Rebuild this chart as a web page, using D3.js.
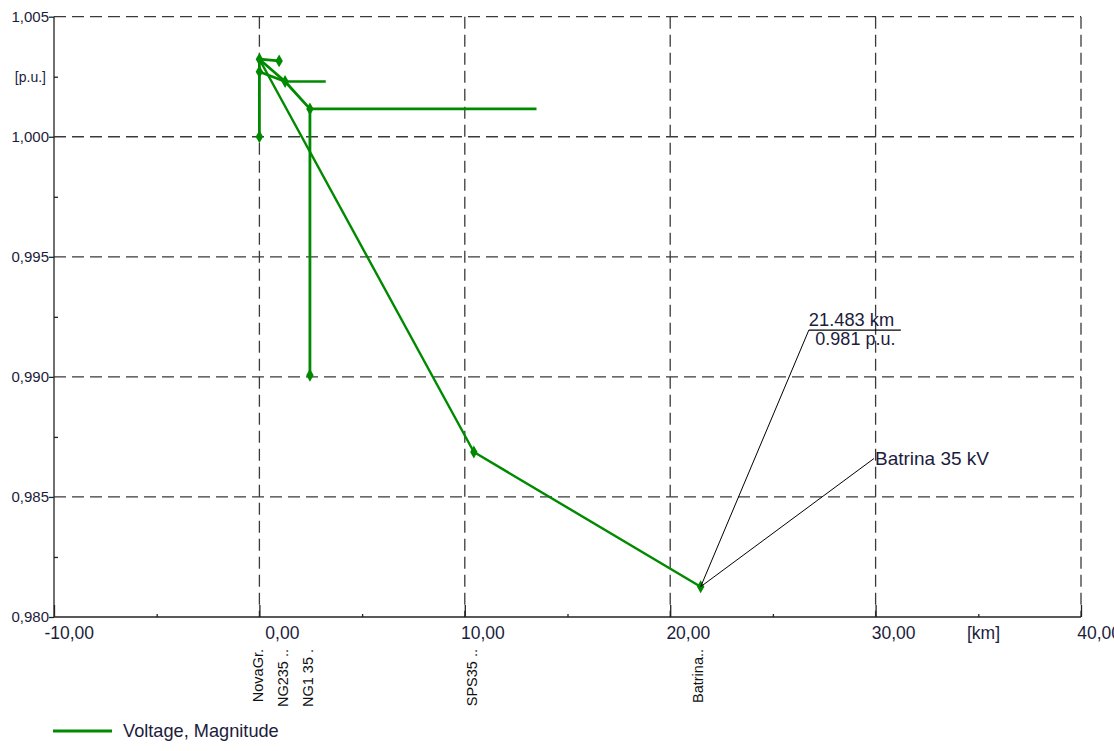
<!DOCTYPE html>
<html><head><meta charset="utf-8">
<script src="https://cdn.jsdelivr.net/npm/d3@7"></script>
<style>
html,body{margin:0;padding:0;background:#fff;}
svg{display:block;font-family:"Liberation Sans",Arial,sans-serif;}
</style></head>
<body><svg id="chart" width="1114" height="751"></svg>
<script>
// ---- data ----
const xTicks = [-10, 0, 10, 20, 30, 40];
const xTickLabels = ["-10,00", "0,00", "10,00", "20,00", "30,00", "40,00"];
const xMinorTicks = [-5, 5, 15, 25, 35];
const yTicks = [0.980, 0.985, 0.990, 0.995, 1.000, 1.005];
const yTickLabels = ["0,980", "0,985", "0,990", "0,995", "1,000", "1,005"];
const yMinorTicks = [0.9825, 0.9875, 0.9925, 0.9975, 1.0025];

const nodeNames = ["NovaGr.", "NG235 ..", "NG1 35 .", "SPS35 ..", "Batrina.."];
const nodeKm = [-0.03, 1.2, 2.42, 10.4, 21.4];

// main feeder profile (km, p.u.)
const mainKm = [0.0, 10.44, 21.483];
const mainPu = [1.00323, 0.98687, 0.98126];
// branches
const branchAKm = [0.0, 0.96];       const branchAPu = [1.00323, 1.00316];
const branchBKm = [0.0, 1.25, 2.46]; const branchBPu = [1.00323, 1.0023, 1.00116];
const branchB2Km = [0.0, 1.25];      const branchB2Pu = [1.00271, 1.0023];
const branchCKm = [1.25, 3.23];      const branchCPu = [1.0023, 1.0023];
const branchDKm = [2.46, 13.49];     const branchDPu = [1.00116, 1.00116];
const branchEKm = [2.46, 2.46];      const branchEPu = [1.00116, 0.99007];
const branchFKm = [0.0, 0.0, 0.0];   const branchFPu = [1.00323, 1.00271, 1.0000];

const markerKm = [0.0, 0.0, 0.0, 0.96, 1.25, 2.46, 2.46, 10.44, 21.483];
const markerPu = [1.00323, 1.00271, 1.0000, 1.00316, 1.0023, 1.00116, 0.99007, 0.98687, 0.98126];

const seriesName = "Voltage, Magnitude";
const annotKm = 21.483, annotPu = 0.98126;
const annotText1 = "21.483 km", annotText2 = "0.981 p.u.";
const annotLabelKm = 26.75, annotLabelPu = 0.99195;
const nameLabelKm = 29.92, nameLabelPu = 0.98660;
const nameLabelText = "Batrina 35 kV";

// ---- drawing ----
const svg = d3.select("#chart");
const x = d3.scaleLinear().domain([-10, 40]).range([54, 1081]);
const y = d3.scaleLinear().domain([0.980, 1.005]).range([617, 16.7]);
const green = "#008a00";
const textCol = "#1c1c3c";

// grid
const grid = svg.append("g").attr("stroke", "#3a3a3a").attr("stroke-width", 1.3).attr("stroke-dasharray", "12,6");
grid.selectAll(".vg").data(xTicks.slice(1)).join("line")
  .attr("x1", d => x(d)).attr("x2", d => x(d)).attr("y1", y(1.005)).attr("y2", y(0.980));
grid.selectAll(".hg").data(yTicks.slice(1)).join("line")
  .attr("x1", x(-10)).attr("x2", x(40)).attr("y1", d => y(d)).attr("y2", d => y(d));

// axes
const xAxis = d3.axisTop(x).tickValues(xTicks).tickSize(12).tickFormat("");
const gx = svg.append("g").attr("transform", `translate(0,${y(0.980)})`).call(xAxis);
gx.select(".domain").attr("stroke", "#222").attr("stroke-width", 1.3).attr("d", `M${x(-10)},0H${x(40)}`);
gx.selectAll(".tick line").attr("stroke", "#222").attr("stroke-width", 1.3);
const xMinor = d3.axisTop(x).tickValues(xMinorTicks).tickSize(3).tickFormat("");
const gxm = svg.append("g").attr("transform", `translate(0,${y(0.980)})`).call(xMinor);
gxm.select(".domain").remove();
gxm.selectAll(".tick line").attr("stroke", "#222").attr("stroke-width", 1.3);

const yAxis = d3.axisLeft(y).tickValues(yTicks).tickSize(5).tickFormat("");
const gy = svg.append("g").attr("transform", `translate(${x(-10)},0)`).call(yAxis);
gy.select(".domain").attr("stroke", "#222").attr("stroke-width", 1.3).attr("d", `M0,${y(1.005)}V${y(0.980)}`);
gy.selectAll(".tick line").attr("stroke", "#222").attr("stroke-width", 1.3);
const yMinor = d3.axisRight(y).tickValues(yMinorTicks).tickSize(4).tickFormat("");
const gym = svg.append("g").attr("transform", `translate(${x(-10)},0)`).call(yMinor);
gym.select(".domain").remove();
gym.selectAll(".tick line").attr("stroke", "#222").attr("stroke-width", 1.3);

// tick labels
svg.append("g").selectAll("text").data(xTicks).join("text")
  .attr("x", d => x(d) + 40).attr("y", y(0.980) + 22)
  .attr("text-anchor", "end").attr("font-size", 17.5).attr("fill", textCol)
  .text((d, i) => xTickLabels[i]);
svg.append("g").selectAll("text").data(yTicks).join("text")
  .attr("x", x(-10) - 5).attr("y", d => y(d)).attr("dy", "0.36em")
  .attr("text-anchor", "end").attr("font-size", 15).attr("fill", textCol)
  .text((d, i) => yTickLabels[i]);
svg.append("text").attr("x", x(-10) - 8).attr("y", y(1.0025)).attr("dy", "0.36em")
  .attr("text-anchor", "end").attr("font-size", 14).attr("fill", textCol).text("[p.u.]");
svg.append("text").attr("x", 967).attr("y", y(0.980) + 22)
  .attr("font-size", 17.5).attr("fill", textCol).text("[km]");

// node labels (rotated)
svg.append("g").selectAll("text").data(nodeNames).join("text")
  .attr("transform", (d, i) => `translate(${x(nodeKm[i]) + 4},649) rotate(-90)`)
  .attr("text-anchor", "end").attr("font-size", 14.5)
  .attr("font-family", "'Liberation Sans Narrow','Arial Narrow',sans-serif")
  .attr("fill", "#111").text(d => d);

// series lines
const line = d3.line().x(d => x(d[0])).y(d => y(d[1]));
const zip = (a, b) => a.map((v, i) => [v, b[i]]);
const branches = [
  [branchFKm, branchFPu, 2.8], [branchAKm, branchAPu, 2.8], [branchBKm, branchBPu, 2.8],
  [branchB2Km, branchB2Pu, 2.8], [branchCKm, branchCPu, 2.6], [branchDKm, branchDPu, 2.6],
  [branchEKm, branchEPu, 2.8], [mainKm, mainPu, 2.4]
];
svg.append("g").selectAll("path").data(branches).join("path")
  .attr("d", d => line(zip(d[0], d[1])))
  .attr("fill", "none").attr("stroke", green).attr("stroke-width", d => d[2])
  .attr("stroke-linejoin", "round");

// markers
svg.append("g").selectAll("path").data(zip(markerKm, markerPu)).join("path")
  .attr("transform", d => `translate(${x(d[0])},${y(d[1])})`)
  .attr("d", d3.symbol().type(d3.symbolDiamond).size(48))
  .attr("fill", green);

// annotations
const ax = x(annotKm), ay = y(annotPu);
const lx = x(annotLabelKm), ly = y(annotLabelPu);
const nx = x(nameLabelKm), ny = y(nameLabelPu);
const ann = svg.append("g");
ann.append("line").attr("x1", ax).attr("y1", ay).attr("x2", lx).attr("y2", ly).attr("stroke", "#000").attr("stroke-width", 1);
ann.append("line").attr("x1", lx).attr("y1", ly).attr("x2", lx + 92).attr("y2", ly).attr("stroke", "#000").attr("stroke-width", 1.2);
ann.append("text").attr("x", lx).attr("y", ly - 4).attr("font-size", 18.3).attr("fill", textCol).text(annotText1);
ann.append("text").attr("x", lx + 6.5).attr("y", ly + 14.5).attr("font-size", 18).attr("fill", textCol).text(annotText2);
ann.append("line").attr("x1", ax).attr("y1", ay).attr("x2", nx).attr("y2", ny).attr("stroke", "#000").attr("stroke-width", 1);
ann.append("text").attr("x", nx + 1).attr("y", ny + 6).attr("font-size", 19).attr("fill", textCol).text(nameLabelText);

// legend
const lg = svg.append("g");
lg.append("line").attr("x1", 53).attr("x2", 112).attr("y1", 731).attr("y2", 731).attr("stroke", green).attr("stroke-width", 3);
lg.append("text").attr("x", 123).attr("y", 737).attr("font-size", 18.2).attr("fill", textCol).text(seriesName);
</script></body></html>
